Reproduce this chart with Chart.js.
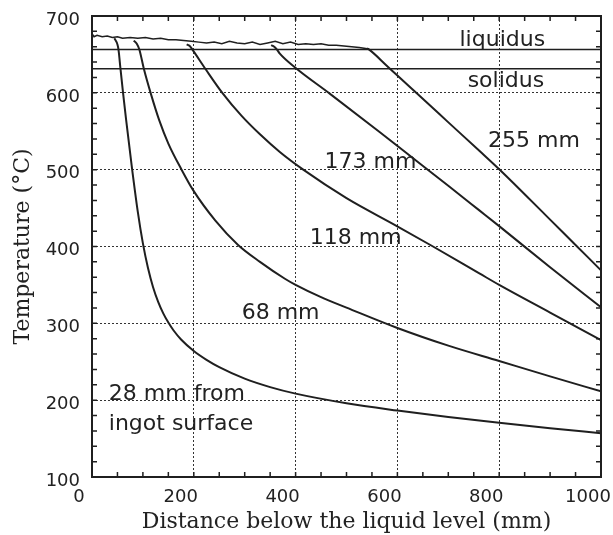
<!DOCTYPE html>
<html>
<head>
<meta charset="utf-8">
<script src="https://cdn.jsdelivr.net/npm/chart.js@4.4.1/dist/chart.umd.min.js"></script>
<style>
  html, body { margin: 0; padding: 0; background: #fff; }
</style>
</head>
<body>
<canvas id="chart" width="613" height="535"></canvas>
<script>
// distance below liquid level (mm) / temperature (deg C)
const meltX = [0, 4, 10, 20, 30, 40, 50, 60, 75, 90, 105, 120, 135, 150, 165, 180, 195, 210, 225, 240,
  255, 270, 285, 300, 315, 330, 345, 360, 375, 390, 405, 420, 435, 450, 465, 480, 495, 510, 525, 544]
const meltT = [677, 673, 675, 673, 674, 672, 673, 671, 672, 671, 672, 670, 671, 669, 669, 668, 667, 666, 665, 666,
  664, 667, 665, 664, 666, 663, 665, 667, 664, 666, 663, 664, 663, 664, 662, 662, 661, 660, 659, 657]

const c28X = [44, 50, 52, 56, 61, 67, 78, 90, 100, 110, 120, 130, 140, 150, 160, 175, 200, 225, 250, 300, 350, 400, 500, 600, 700, 800, 900, 1000]
const c28T = [671, 663, 656.5, 631, 600, 565, 505, 445, 404, 372, 347, 328, 313, 301, 291, 279, 264, 252.5, 243, 228, 217, 208.5, 196, 186.5, 178, 170.5, 163.5, 157]

const c68X = [82, 88, 93, 102, 116, 132, 150, 176, 199, 242, 287, 330, 379, 400, 450, 500, 600, 700, 800, 900, 1000]
const c68T = [668, 664, 656.5, 631, 598, 564.5, 534, 500, 473, 434, 402, 380, 358, 350, 334, 320.5, 294, 271, 251, 231, 211.5]

const c118X = [186, 192, 197, 223, 256, 294, 330, 369, 415, 500, 598, 670, 761, 800, 900, 1000]
const c118T = [663, 661, 656.5, 631, 600, 570, 546, 523, 500, 463, 427, 400, 365, 350, 314, 278]

const c173X = [352, 358, 363, 369, 399, 467, 565, 644, 700, 761, 800, 900, 1000]
const c173T = [662, 660, 656.5, 651, 633, 599, 549, 508, 479, 447, 426.5, 373, 321]

const c255X = [540, 544, 578, 600, 637, 683, 720, 761, 800, 850, 900, 950, 1000]
const c255T = [658, 656.5, 636, 622.5, 600, 572, 549.5, 524.5, 500.5, 468, 435, 402, 369]

const liquidusT = 656.5
const solidusT = 631.5

const xTicks = [0, 200, 400, 600, 800, 1000]
const yTicks = [100, 200, 300, 400, 500, 600, 700]

const ink = '#1f1f1f'

function pts (xs, ys) {
  return xs.map((x, i) => ({ x: x, y: ys[i] }))
}

function curve (xs, ys, width, tension) {
  return {
    data: pts(xs, ys),
    showLine: true,
    borderColor: ink,
    borderWidth: width,
    pointRadius: 0,
    tension: tension,
    cubicInterpolationMode: tension ? 'monotone' : 'default'
  }
}

// frame, inward ticks every 50 mm / 20 C, and the text notes
const notes = [
  { text: 'liquidus', x: 722, y: 661 },
  { text: 'solidus', x: 738, y: 608 },
  { text: '255 mm', x: 778, y: 530 },
  { text: '173 mm', x: 457, y: 502 },
  { text: '118 mm', x: 428, y: 403 },
  { text: '68 mm', x: 294, y: 306 },
  { text: '28 mm from', x: 33, y: 200 },
  { text: 'ingot surface', x: 33, y: 161 }
]

const framePlugin = {
  id: 'frame',
  afterDraw (chart) {
    const { ctx, chartArea: a, scales } = chart
    ctx.save()
    ctx.strokeStyle = ink
    ctx.lineWidth = 1.5
    for (let v = 50; v < 1000; v += 50) {
      const p = scales.x.getPixelForValue(v)
      ctx.beginPath()
      ctx.moveTo(p, a.bottom); ctx.lineTo(p, a.bottom - 5)
      ctx.moveTo(p, a.top); ctx.lineTo(p, a.top + 5)
      ctx.stroke()
    }
    for (let v = 120; v < 700; v += 20) {
      const p = scales.y.getPixelForValue(v)
      ctx.beginPath()
      ctx.moveTo(a.left, p); ctx.lineTo(a.left + 5, p)
      ctx.moveTo(a.right, p); ctx.lineTo(a.right - 5, p)
      ctx.stroke()
    }
    ctx.lineWidth = 2
    ctx.strokeRect(a.left, a.top, a.right - a.left, a.bottom - a.top)

    ctx.fillStyle = '#222'
    ctx.font = '22px "DejaVu Sans"'
    ctx.textAlign = 'left'
    ctx.textBaseline = 'alphabetic'
    notes.forEach(n => {
      ctx.fillText(n.text, scales.x.getPixelForValue(n.x), scales.y.getPixelForValue(n.y))
    })
    ctx.restore()
  }
}

const gridColor = (c) => {
  const v = c.tick && c.tick.value
  return (c.scale.axis === 'x' ? (v > 0 && v < 1000) : (v > 100 && v < 700)) ? '#333' : 'rgba(0,0,0,0)'
}

new Chart(document.getElementById('chart').getContext('2d'), {
  type: 'scatter',
  data: {
    datasets: [
      curve([0, 1000], [liquidusT, liquidusT], 1.5, 0),
      curve([0, 1000], [solidusT, solidusT], 1.5, 0),
      curve(meltX, meltT, 1.5, 0),
      curve(c28X, c28T, 2, 0.4),
      curve(c68X, c68T, 2, 0.4),
      curve(c118X, c118T, 2, 0.4),
      curve(c173X, c173T, 2, 0.4),
      curve(c255X, c255T, 2, 0.4)
    ]
  },
  options: {
    responsive: false,
    animation: false,
    layout: { padding: { top: 16, right: 12, left: 0, bottom: 0 } },
    plugins: { legend: { display: false }, tooltip: { enabled: false } },
    scales: {
      x: {
        type: 'linear',
        min: 0,
        max: 1000,
        afterBuildTicks (s) { s.ticks = xTicks.map(v => ({ value: v })) },
        afterFit (s) { s.height = 58; s.paddingLeft = 0; s.paddingRight = 0 },
        grid: { color: gridColor, lineWidth: 1, drawTicks: false },
        border: { display: false, dash: [2, 2] },
        ticks: {
          color: '#222',
          font: { family: 'DejaVu Sans', size: 18 },
          padding: 10,
          labelOffset: -13,
          maxRotation: 0,
          callback: v => String(v)
        },
        title: {
          display: true,
          text: 'Distance below the liquid level (mm)',
          color: '#222',
          font: { family: 'DejaVu Serif', size: 22 },
          padding: { top: 0, bottom: 0 }
        }
      },
      y: {
        type: 'linear',
        min: 100,
        max: 700,
        afterBuildTicks (s) { s.ticks = yTicks.map(v => ({ value: v })) },
        afterFit (s) { s.width = 92; s.paddingTop = 0; s.paddingBottom = 0 },
        grid: { color: gridColor, lineWidth: 1, drawTicks: false },
        border: { display: false, dash: [2, 2] },
        ticks: { color: '#222', font: { family: 'DejaVu Sans', size: 18 }, padding: 12, labelOffset: 4 },
        title: {
          display: true,
          text: 'Temperature (°C)',
          color: '#222',
          font: { family: 'DejaVu Serif', size: 22 },
          padding: { top: 10, bottom: 0 }
        }
      }
    }
  },
  plugins: [framePlugin]
})
</script>
</body>
</html>
